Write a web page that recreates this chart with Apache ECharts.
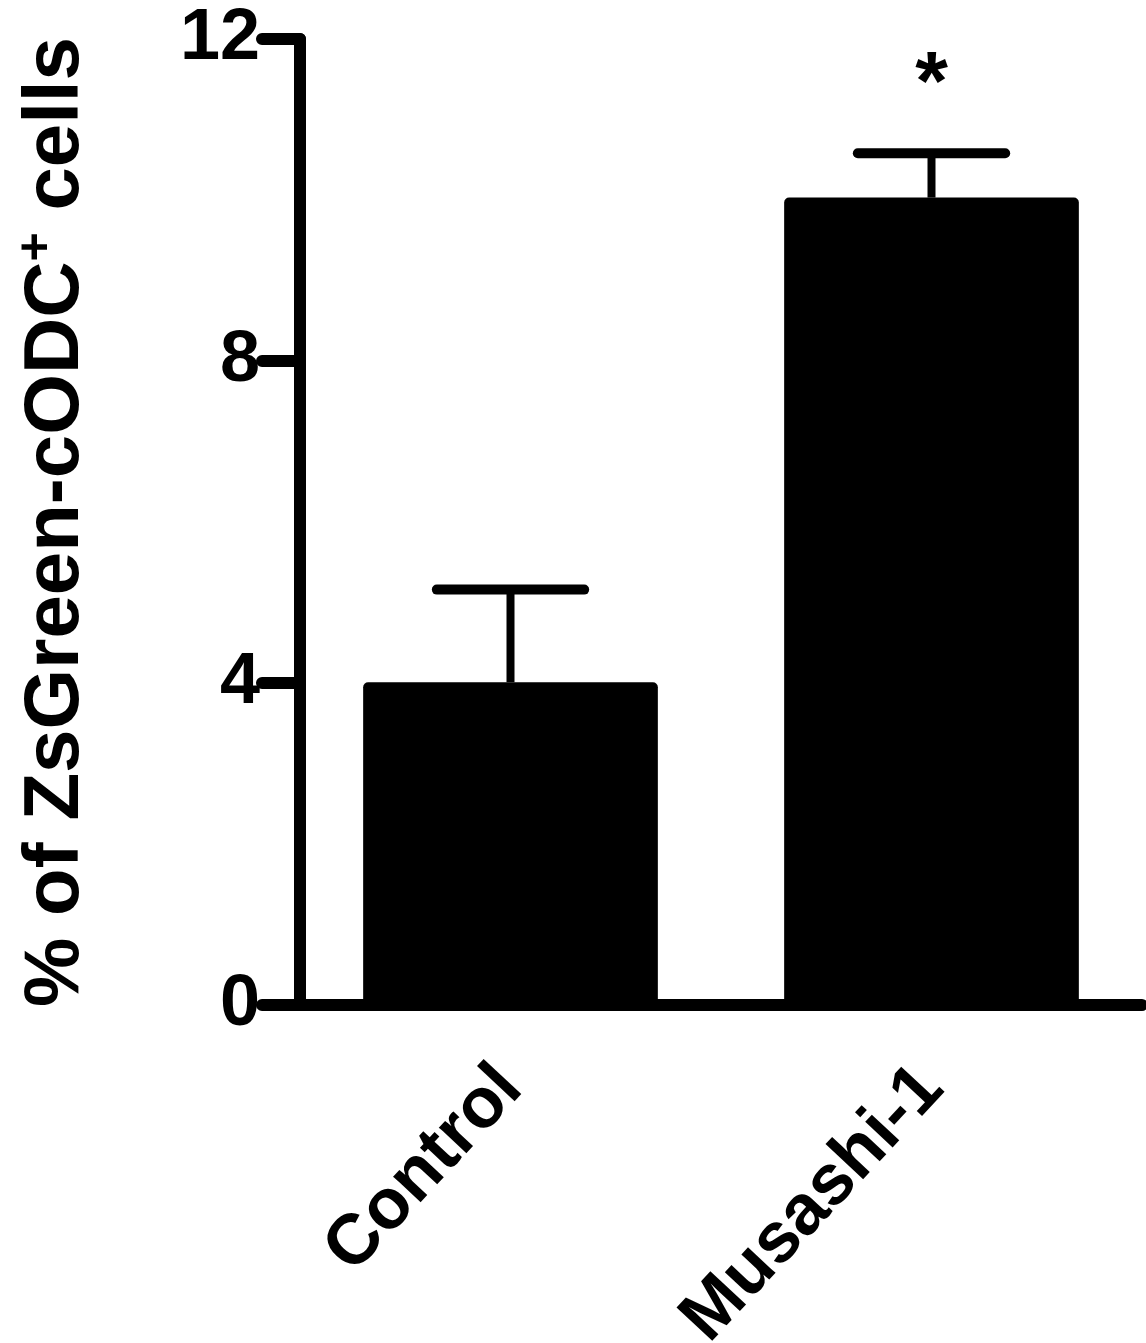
<!DOCTYPE html>
<html>
<head>
<meta charset="utf-8">
<script src="https://cdn.jsdelivr.net/npm/echarts@6/dist/echarts.min.js"></script>
<style>
  html, body { margin: 0; padding: 0; background: #fff; }
  #chart { width: 1146px; height: 1343px; }
</style>
</head>
<body>
<div id="chart"></div>
<script>
const categories = ['Control', 'Musashi-1'];
const means = [4.01, 10.03];
const errorTops = [5.16, 10.58];
const significance = ['', '*'];
const yTicks = [0, 4, 8, 12];

const FONT = "'Liberation Sans', Arial, sans-serif";

const chart = echarts.init(document.getElementById('chart'));

// error bars: stem from bar top to error top, plus a cap; star above when significant
function renderErrorBar(params, api) {
    const idx = api.value(0);
    const base = api.coord([idx, api.value(1)]);
    const top = api.coord([idx, api.value(2)]);
    const bandWidth = api.size([1, 0])[0];
    const capHalf = bandWidth * 0.175;
    const children = [
        {
            type: 'line',
            shape: { x1: base[0], y1: base[1], x2: top[0], y2: top[1] },
            style: { stroke: '#000', lineWidth: 8 }
        },
        {
            type: 'line',
            shape: { x1: top[0] - capHalf, y1: top[1], x2: top[0] + capHalf, y2: top[1] },
            style: { stroke: '#000', lineWidth: 10, lineCap: 'round' }
        }
    ];
    const mark = significance[idx];
    if (mark) {
        children.push({
            type: 'text',
            x: top[0],
            y: top[1] - 66,
            style: {
                text: mark,
                fill: '#000',
                font: 'bold 84px ' + FONT,
                align: 'center',
                verticalAlign: 'middle'
            }
        });
    }
    return { type: 'group', children: children };
}

const option = {
    backgroundColor: '#fff',
    animation: false,
    grid: {
        left: 300,
        right: 4,
        top: 39,
        bottom: 338,
        containLabel: false,
        outerBoundsMode: 'none'
    },
    xAxis: {
        type: 'category',
        data: categories,
        axisLine: {
            lineStyle: { color: '#000', width: 12, cap: 'round' }
        },
        axisTick: {
            alignWithLabel: true,
            length: 36,
            lineStyle: { color: '#000', width: 11, cap: 'round' }
        },
        axisLabel: {
            rotate: 47,
            margin: 72,
            color: '#000',
            fontSize: 71,
            fontWeight: 'bold',
            fontFamily: FONT
        }
    },
    yAxis: {
        type: 'value',
        min: 0,
        max: 12,
        interval: 4,
        name: '{t|% of ZsGreen-cODC}{sup|+}{t| cells}',
        nameLocation: 'middle',
        nameGap: 200,
        nameTextStyle: {
            color: '#000',
            fontFamily: FONT,
            fontWeight: 'bold',
            rich: {
                t: { fontSize: 78, fontWeight: 'bold', fontFamily: FONT, color: '#000' },
                sup: { fontSize: 50, fontWeight: 'bold', fontFamily: FONT, color: '#000', padding: [0, 0, 38, 0] }
            }
        },
        axisLine: {
            show: true,
            lineStyle: { color: '#000', width: 12, cap: 'round' }
        },
        axisTick: {
            show: true,
            length: 38,
            lineStyle: { color: '#000', width: 12, cap: 'round' }
        },
        axisLabel: {
            margin: 40,
            color: '#000',
            fontSize: 72,
            fontWeight: 'bold',
            fontFamily: FONT,
            formatter: function (v) { return yTicks.indexOf(v) >= 0 ? String(v) : ''; }
        },
        splitLine: { show: false }
    },
    series: [
        {
            type: 'bar',
            data: means,
            barWidth: '70%',
            itemStyle: { color: '#000', borderRadius: [5, 5, 0, 0] },
            z: 2
        },
        {
            type: 'custom',
            renderItem: renderErrorBar,
            data: categories.map(function (c, i) { return [i, means[i], errorTops[i]]; }),
            z: 3
        }
    ]
};

chart.setOption(option);

window.addEventListener('resize', () => {
    chart.resize();
});
</script>
</body>
</html>
